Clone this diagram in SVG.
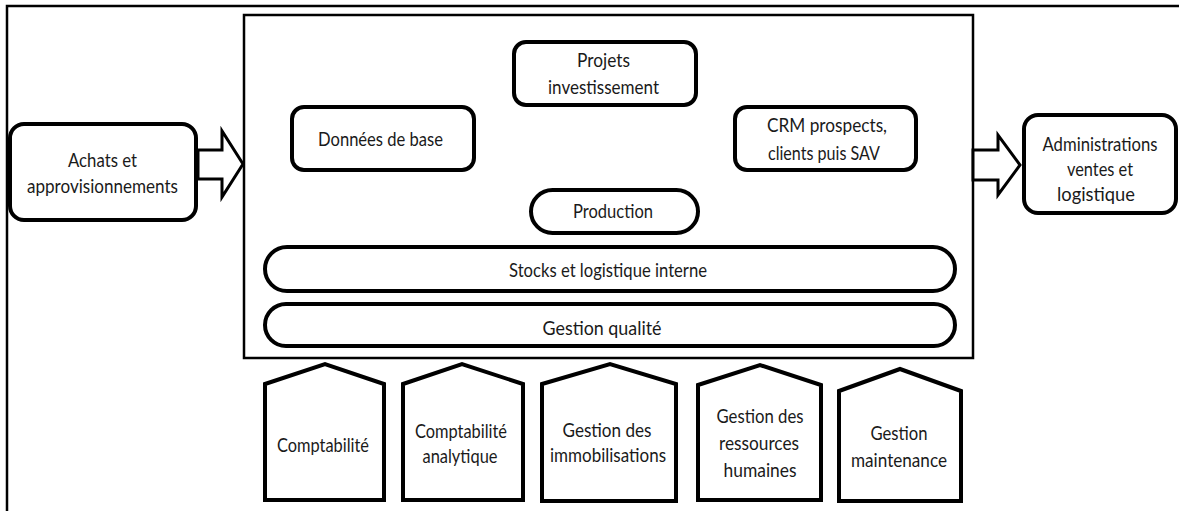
<svg xmlns="http://www.w3.org/2000/svg" width="1179" height="511" viewBox="0 0 1179 511">
<style>
.frame{fill:none;stroke:#000;stroke-width:2.5}
.box{fill:#fff;stroke:#000;stroke-width:4}
.arr{fill:#fff;stroke:#000;stroke-width:3;stroke-linejoin:miter}
.pent{fill:#fff;stroke:#000;stroke-width:4;stroke-linejoin:miter}
text{font-family:Lato,"Open Sans","Liberation Sans",sans-serif;font-size:20px;fill:#1a1a1a;text-anchor:middle}
</style>
<rect class="frame" x="7" y="6" width="1200" height="600"/>
<g id="systeme">
<rect class="frame" x="244" y="15" width="729" height="343"/>
</g>
<g id="connectors">
<polygon class="arr" points="198,150 222,150 222,131 243,164 222,197 222,179 198,179"/>
<polygon class="arr" points="973,150 998,150 998,135 1020,165 998,195 998,180 973,180"/>
</g>
<g id="achats">
<rect class="box" x="10" y="124" width="186" height="96" rx="14"/>
<text x="102.5" y="167" textLength="69" lengthAdjust="spacingAndGlyphs">Achats et</text>
<text x="102.5" y="193" textLength="151" lengthAdjust="spacingAndGlyphs">approvisionnements</text>
</g>
<g id="administrations">
<rect class="box" x="1024" y="115" width="152" height="98" rx="14"/>
<text x="1100" y="151" textLength="115" lengthAdjust="spacingAndGlyphs">Administrations</text>
<text x="1100" y="176" textLength="66" lengthAdjust="spacingAndGlyphs">ventes et</text>
<text x="1096" y="201" textLength="78" lengthAdjust="spacingAndGlyphs">logistique</text>
</g>
<g id="donnees">
<rect class="box" x="292" y="107" width="182" height="63" rx="12"/>
<text x="380.5" y="146" textLength="125" lengthAdjust="spacingAndGlyphs">Données de base</text>
</g>
<g id="projets">
<rect class="box" x="514" y="42" width="182" height="63" rx="12"/>
<text x="603.5" y="67" textLength="53" lengthAdjust="spacingAndGlyphs">Projets</text>
<text x="603.5" y="94" textLength="111" lengthAdjust="spacingAndGlyphs">investissement</text>
</g>
<g id="crm">
<rect class="box" x="735" y="107" width="181" height="63" rx="12"/>
<text x="827" y="132" textLength="120" lengthAdjust="spacingAndGlyphs">CRM prospects,</text>
<text x="824" y="160" textLength="112" lengthAdjust="spacingAndGlyphs">clients puis SAV</text>
</g>
<g id="production">
<rect class="box" x="531" y="190" width="167" height="43" rx="21.5"/>
<text x="613" y="218" textLength="80" lengthAdjust="spacingAndGlyphs">Production</text>
</g>
<g id="stocks">
<rect class="box" x="265" y="247" width="690" height="44" rx="22"/>
<text x="608" y="277" textLength="198" lengthAdjust="spacingAndGlyphs">Stocks et logistique interne</text>
</g>
<g id="qualite">
<rect class="box" x="265" y="304" width="690" height="42" rx="21"/>
<text x="602" y="335" textLength="119" lengthAdjust="spacingAndGlyphs">Gestion qualité</text>
</g>
<g id="comptabilite">
<polygon class="pent" points="265,384 325,364 384,384 384,500 265,500"/>
<text x="323" y="452" textLength="92" lengthAdjust="spacingAndGlyphs">Comptabilité</text>
</g>
<g id="analytique">
<polygon class="pent" points="403,384 462,364 523,384 523,500 403,500"/>
<text x="461" y="438" textLength="92" lengthAdjust="spacingAndGlyphs">Comptabilité</text>
<text x="460" y="463" textLength="75" lengthAdjust="spacingAndGlyphs">analytique</text>
</g>
<g id="immobilisations">
<polygon class="pent" points="542,384 610,364 676,384 676,501 542,501"/>
<text x="607" y="437" textLength="89" lengthAdjust="spacingAndGlyphs">Gestion des</text>
<text x="608" y="462" textLength="116" lengthAdjust="spacingAndGlyphs">immobilisations</text>
</g>
<g id="rh">
<polygon class="pent" points="698,385 760,365 821,385 821,500 698,500"/>
<text x="760" y="423" textLength="87" lengthAdjust="spacingAndGlyphs">Gestion des</text>
<text x="759" y="450" textLength="80" lengthAdjust="spacingAndGlyphs">ressources</text>
<text x="760" y="477" textLength="73" lengthAdjust="spacingAndGlyphs">humaines</text>
</g>
<g id="maintenance">
<polygon class="pent" points="839,391 900,369 961,391 961,501 839,501"/>
<text x="899" y="440" textLength="57" lengthAdjust="spacingAndGlyphs">Gestion</text>
<text x="899" y="467" textLength="96" lengthAdjust="spacingAndGlyphs">maintenance</text>
</g>
</svg>
